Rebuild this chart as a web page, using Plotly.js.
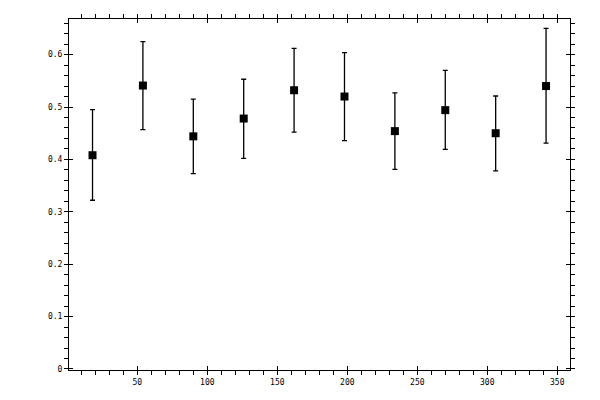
<!DOCTYPE html>
<html>
<head>
<meta charset="utf-8">
<script src="https://cdn.plot.ly/plotly-3.0.1.min.js"></script>
<style>html,body{margin:0;padding:0;background:#fff;}#chart{width:600px;height:400px;}</style>
</head>
<body>
<div id="chart"></div>
<script>
var xValues = [18, 54, 90, 126, 162, 198, 234, 270, 306, 342];
var yValues = [0.408, 0.541, 0.444, 0.478, 0.532, 0.520, 0.454, 0.494, 0.450, 0.540];
var errPlus = [0.087, 0.084, 0.071, 0.075, 0.080, 0.084, 0.073, 0.076, 0.071, 0.110];
var errMinus = [0.086, 0.084, 0.071, 0.076, 0.080, 0.084, 0.073, 0.075, 0.072, 0.109];

var tickFont = {family: 'DejaVu Sans Mono, monospace', size: 8, color: '#000'};

var main = {
  x: xValues, y: yValues, type: 'scatter', mode: 'markers',
  marker: {symbol: 'square', size: 8, color: '#000'},
  error_y: {type: 'data', symmetric: false, array: errPlus, arrayminus: errMinus,
            color: '#000', thickness: 1.3, width: 2.5},
  xaxis: 'x', yaxis: 'y', hoverinfo: 'x+y'
};
var ghost = {
  x: xValues, y: yValues, type: 'scatter', mode: 'markers',
  marker: {opacity: 0}, xaxis: 'x2', yaxis: 'y2', hoverinfo: 'skip', showlegend: false
};

var xr = [1.2, 359.1], yr = [-0.002, 0.668];
var layout = {
  width: 600, height: 400,
  margin: {l: 69, r: 30, t: 19, b: 30},
  paper_bgcolor: '#fff', plot_bgcolor: '#fff',
  showlegend: false,
  xaxis: {
    range: xr, tick0: 0, dtick: 50, ticks: 'outside', ticklen: 4, tickwidth: 1, tickcolor: '#000',
    minor: {dtick: 10, tick0: 0, ticks: 'outside', ticklen: 4, tickwidth: 1, tickcolor: '#000', showgrid: false},
    showline: true, linewidth: 1, linecolor: '#000', mirror: 'ticks',
    showgrid: false, zeroline: false, tickfont: tickFont
  },
  yaxis: {
    range: yr, tick0: 0, dtick: 0.1, ticks: 'outside', ticklen: 4, tickwidth: 1, tickcolor: '#000',
    minor: {dtick: 0.02, tick0: 0, ticks: 'outside', ticklen: 4, tickwidth: 1, tickcolor: '#000', showgrid: false},
    showline: true, linewidth: 1, linecolor: '#000', mirror: 'ticks',
    showgrid: false, zeroline: false, tickfont: tickFont
  },
  xaxis2: {
    overlaying: 'x', anchor: 'y2', range: xr, tick0: 0, dtick: 50, ticks: 'inside', ticklen: 4,
    tickwidth: 1, tickcolor: '#000', mirror: 'ticks', showline: false, showgrid: false,
    zeroline: false, showticklabels: false
  },
  yaxis2: {
    overlaying: 'y', anchor: 'x2', range: yr, tick0: 0, dtick: 0.1, ticks: 'inside', ticklen: 4,
    tickwidth: 1, tickcolor: '#000', mirror: 'ticks', showline: false, showgrid: false,
    zeroline: false, showticklabels: false
  }
};

Plotly.newPlot('chart', [main, ghost], layout, {staticPlot: true, displayModeBar: false});
</script>
</body>
</html>
